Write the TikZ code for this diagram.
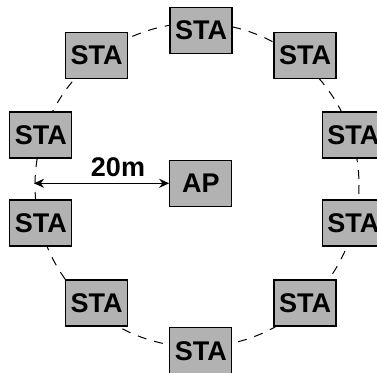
\documentclass[tikz,border=0pt]{standalone}
\usepackage{fontspec}
\setmainfont{Liberation Sans}
\usepackage{tikz}
\usetikzlibrary{arrows.meta,positioning}

\begin{document}
\begin{tikzpicture}[
    x=1pt, y=-1pt,
    station/.style={rectangle, draw, line width=1.3pt, fill=gray!60, minimum width=62pt, minimum height=46pt, inner sep=0pt, font=\fontsize{27}{31}\selectfont\bfseries},
    ring/.style={draw, line width=1pt, dash pattern=on 9pt off 8pt},
    dist/.style={{Stealth[length=10pt,width=9pt]}-{Stealth[length=10pt,width=9pt]}, line width=1.4pt},
    lbl/.style={inner sep=0pt, font=\fontsize{27}{31}\selectfont\bfseries}
]
\clip (0,0) rectangle (377,372);

% coverage circle
\coordinate (centre) at (197,185);
\draw[ring] (centre) circle (162);

% access point
\node[station] (ap) at (200.8,183.3) {AP};

% stations round the circle
\node[station] (top) at (201,30.7) {STA};
\node[station] (topleft) at (96.7,55.3) {STA};
\node[station] (topright) at (305,55.3) {STA};
\node[station] (leftup) at (40.8,135) {STA};
\node[station] (rightup) at (353.3,135) {STA};
\node[station] (leftdown) at (40.8,223) {STA};
\node[station] (rightdown) at (353.3,223) {STA};
\node[station] (botleft) at (96.7,303) {STA};
\node[station] (botright) at (305,303) {STA};
\node[station] (bot) at (200.8,350.7) {STA};

% radius
\coordinate (edge) at (34,183.3);
\draw[dist] (edge) -- (ap.west);
\node[lbl] (radius) at (118,167) {20m};

\end{tikzpicture}
\end{document}
